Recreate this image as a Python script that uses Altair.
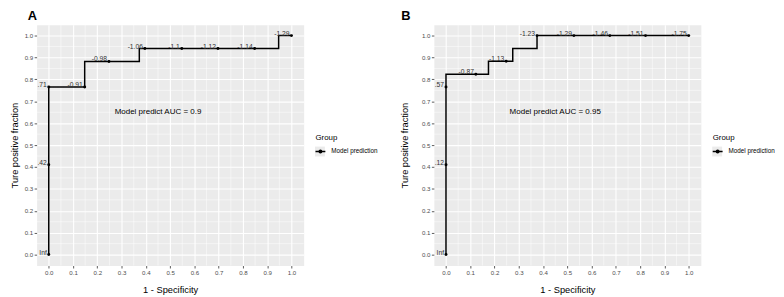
import altair as alt
import pandas as pd

FONT = "Liberation Sans"

# ---- data -------------------------------------------------------------
TICKS = [0.0, 0.1, 0.2, 0.3, 0.4, 0.5, 0.6, 0.7, 0.8, 0.9, 1.0]
MINOR = [0.05, 0.15, 0.25, 0.35, 0.45, 0.55, 0.65, 0.75, 0.85, 0.95]
GROUP = "Model prediction"

# Panel A: ROC step vertices
A_roc_fpr = [0.0, 0.0, 0.148, 0.373, 0.947, 1.0]
A_roc_tpr = [0.0, 0.765, 0.882, 0.941, 1.0, 1.0]
# Panel A: labelled cut-off points
A_pt_fpr = [0.0, 0.0, 0.0, 0.148, 0.248, 0.396, 0.548, 0.697, 0.848, 1.0]
A_pt_tpr = [0.0, 0.41, 0.765, 0.765, 0.882, 0.941, 0.941, 0.941, 0.941, 1.0]
A_pt_lab = ["Inf", ".42", ".71", "-0.91", "-0.98", "-1.06", "-1.1", "-1.12", "-1.14", "-1.29"]
A_auc = "Model predict AUC = 0.9"

# Panel B
B_roc_fpr = [0.0, 0.0, 0.175, 0.275, 0.375, 1.0]
B_roc_tpr = [0.0, 0.824, 0.883, 0.941, 1.0, 1.0]
B_pt_fpr = [0.0, 0.0, 0.0, 0.123, 0.248, 0.375, 0.527, 0.675, 0.822, 1.0]
B_pt_tpr = [0.0, 0.41, 0.765, 0.824, 0.883, 1.0, 1.0, 1.0, 1.0, 1.0]
B_pt_lab = ["Inf", ".12", ".57", "-0.87", "-1.13", "-1.23", "-1.29", "-1.46", "-1.51", "-1.75"]
B_auc = "Model predict AUC = 0.95"

AUC_X = [0.45]
AUC_Y = [0.65]

W, H = 270.5, 244

LEGEND_SYMBOL = ("M-1,-0.15H1V0.15H-1Z "
                 "M-0.4,0A0.4,0.4 0 1,1 0.4,0A0.4,0.4 0 1,1 -0.4,0Z")


def panel(letter, title_dx, ytitle_x, roc_fpr, roc_tpr, pt_fpr, pt_tpr, pt_lab, auc):
    roc = pd.DataFrame({"fpr": roc_fpr, "tpr": roc_tpr,
                        "order": list(range(len(roc_fpr))),
                        "key": ["box"] * len(roc_fpr)})
    pts = pd.DataFrame({"fpr": pt_fpr, "tpr": pt_tpr, "label": pt_lab,
                        "group": [GROUP] * len(pt_fpr)})
    minor = pd.DataFrame({"v": MINOR})
    auc_df = pd.DataFrame({"x": AUC_X, "y": AUC_Y, "t": [auc]})

    xs = alt.Scale(domain=[-0.05, 1.05], nice=False, zero=False)
    ys = alt.Scale(domain=[-0.05, 1.05], nice=False, zero=False)

    xaxis = alt.Axis(values=TICKS, format=".1f", title="1 - Specificity",
                     labelFlush=False, labelOverlap=False,
                     titleX=W / 2, titleY=27.4, titleBaseline="alphabetic")
    yaxis = alt.Axis(values=TICKS, format=".1f", title="Ture positive fraction",
                     labelFlush=False, labelOverlap=False,
                     titleX=ytitle_x, titleY=H / 2, titleAngle=270,
                     titleAlign="center", titleBaseline="bottom")

    minor_x = alt.Chart(minor).mark_rule(color="white", strokeWidth=0.5).encode(
        x=alt.X("v:Q", scale=xs, axis=xaxis))
    minor_y = alt.Chart(minor).mark_rule(color="white", strokeWidth=0.5).encode(
        y=alt.Y("v:Q", scale=ys, axis=yaxis))

    line = alt.Chart(roc).mark_line(color="black", strokeWidth=1.5,
                                    interpolate="step-after").encode(
        x=alt.X("fpr:Q", scale=xs, axis=xaxis),
        y=alt.Y("tpr:Q", scale=ys, axis=yaxis),
        order="order:Q",
        # grey key background of the legend
        strokeDash=alt.StrokeDash("key:N", scale=alt.Scale(range=[[1, 0]]),
                                  legend=alt.Legend(
                                      title=None, orient="none",
                                      legendX=282, legendY=123.5, padding=0,
                                      symbolType="square", symbolSize=100,
                                      symbolFillColor="#ebebeb",
                                      symbolStrokeColor="#ebebeb",
                                      symbolStrokeWidth=0,
                                      labelFontSize=0.01, labelOffset=0.01,
                                      labelExpr="''", zindex=0)))

    points = alt.Chart(pts).mark_point(filled=True, size=9, opacity=1).encode(
        x=alt.X("fpr:Q", scale=xs, axis=xaxis),
        y=alt.Y("tpr:Q", scale=ys, axis=yaxis),
        color=alt.Color("group:N", scale=alt.Scale(range=["black"]),
                        legend=alt.Legend(
                            title="Group", orient="none",
                            legendX=282.5, legendY=110.5, padding=0,
                            titleFontSize=8, titleFontWeight="normal",
                            titleColor="black", titleFont=FONT, titlePadding=5,
                            labelFontSize=6.4, labelColor="black", labelFont=FONT,
                            labelOffset=6, symbolType=LEGEND_SYMBOL,
                            symbolSize=100, symbolStrokeWidth=0, zindex=2)))

    labels = alt.Chart(pts).mark_text(align="right", baseline="alphabetic", dx=-2,
                                      fontSize=6.8, color="#333333",
                                      font=FONT).encode(
        x=alt.X("fpr:Q", scale=xs, axis=xaxis),
        y=alt.Y("tpr:Q", scale=ys, axis=yaxis),
        text="label:N")

    auc_txt = alt.Chart(auc_df).mark_text(align="center", baseline="middle",
                                          fontSize=8.1, color="black",
                                          font=FONT).encode(
        x=alt.X("x:Q", scale=xs, axis=xaxis),
        y=alt.Y("y:Q", scale=ys, axis=yaxis),
        text="t:N")

    return alt.layer(minor_x, minor_y, line, points, labels, auc_txt).properties(
        width=W, height=H,
        title=alt.Title(letter, anchor="start", frame="group", dx=title_dx,
                        fontSize=13, fontWeight="bold", offset=1, font=FONT,
                        color="black"))


chart_a = panel("A", -9, -17.6, A_roc_fpr, A_roc_tpr, A_pt_fpr, A_pt_tpr, A_pt_lab, A_auc)
chart_b = panel("B", -33, -24.3, B_roc_fpr, B_roc_tpr, B_pt_fpr, B_pt_tpr, B_pt_lab, B_auc)

chart = alt.hconcat(chart_a, chart_b, spacing=131.4, bounds="flush").resolve_scale(
    color="independent", strokeDash="independent").properties(padding=0).configure_view(
    fill="#ebebeb", stroke="transparent").configure_axis(
    labelFont=FONT, titleFont=FONT, labelFontSize=6.2, labelColor="#4d4d4d",
    tickColor="#333333", tickSize=2.5, tickWidth=0.8, labelPadding=1.5,
    gridColor="white", gridWidth=1.1, domain=False,
    titleFontSize=9.4, titleFontWeight="normal", titleColor="black")

chart.save("out.html", embed_options={"renderer": "svg", "actions": False})
